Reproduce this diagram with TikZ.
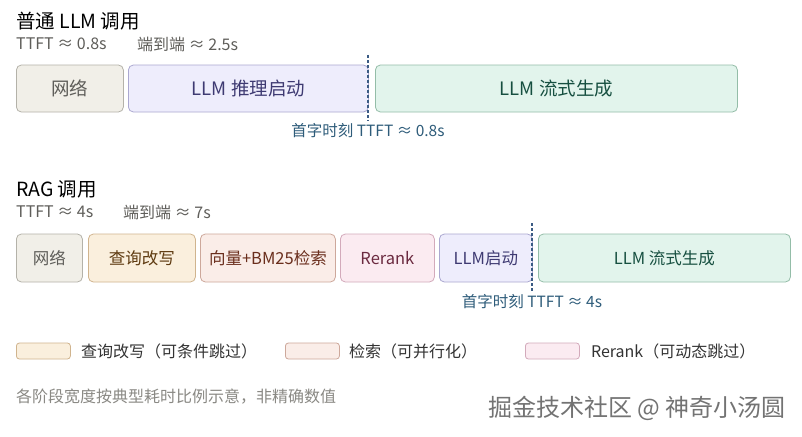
\documentclass[tikz,border=0pt]{standalone}
\usepackage{fontspec}
\setmainfont{Noto Sans CJK SC}
\usetikzlibrary{positioning}

\definecolor{netfill}{HTML}{F1EFE8}
\definecolor{netdraw}{HTML}{B4B2A9}
\definecolor{nettext}{HTML}{5F5E5A}
\definecolor{inffill}{HTML}{EEEDFC}
\definecolor{infdraw}{HTML}{ABA8D0}
\definecolor{inftext}{HTML}{3E3A72}
\definecolor{genfill}{HTML}{E2F4EC}
\definecolor{gendraw}{HTML}{94BDA8}
\definecolor{gentext}{HTML}{164F40}
\definecolor{rwfill}{HTML}{FAEFDD}
\definecolor{rwdraw}{HTML}{D0B48E}
\definecolor{rwtext}{HTML}{5E3A10}
\definecolor{retfill}{HTML}{FAEDE8}
\definecolor{retdraw}{HTML}{CDA89B}
\definecolor{rettext}{HTML}{6A2E1C}
\definecolor{rrfill}{HTML}{FBEBF1}
\definecolor{rrdraw}{HTML}{D3AABB}
\definecolor{rrtext}{HTML}{6B2A40}
\definecolor{markline}{HTML}{3B5B84}
\definecolor{marktext}{HTML}{2E5C7A}
\definecolor{subtext}{HTML}{5F5E5A}
\definecolor{notetext}{HTML}{8A8984}

\begin{document}
\begin{tikzpicture}[x=1pt,y=-1pt,
        stage/.style={draw,rounded corners=5pt,line width=0.8pt,anchor=west,inner sep=0pt},
        toprow/.style={stage,minimum height=47pt,font=\fontsize{18.5}{20}\selectfont},
        ragrow/.style={stage,minimum height=48pt,font=\fontsize{16.5}{18}\selectfont},
        net/.style={fill=netfill,draw=netdraw,text=nettext},
        inf/.style={fill=inffill,draw=infdraw,text=inftext},
        gen/.style={fill=genfill,draw=gendraw,text=gentext},
        rewrite/.style={fill=rwfill,draw=rwdraw,text=rwtext},
        retrieve/.style={fill=retfill,draw=retdraw,text=rettext},
        rerank/.style={fill=rrfill,draw=rrdraw,text=rrtext},
        heading/.style={anchor=west,inner sep=0pt,font=\fontsize{19.5}{21}\selectfont},
        metric/.style={anchor=west,inner sep=0pt,text=subtext,font=\fontsize{16}{18}\selectfont},
        ttft/.style={draw=markline,line width=1.6pt,dash pattern=on 3pt off 2pt},
        ttftlabel/.style={inner sep=0pt,text=marktext,font=\fontsize{15.5}{17}\selectfont},
        swatch/.style={draw,rounded corners=3pt,line width=0.8pt,anchor=west,minimum width=54pt,minimum height=16pt,inner sep=0pt},
        legend/.style={anchor=west,inner sep=0pt,text=black!80,font=\fontsize{16}{18}\selectfont},
        ]
    \useasboundingbox[fill=white] (0,0) rectangle (802,436);

    % plain LLM call
    \node (title1) [heading] at (16,21) {普通 LLM 调用};
    \node (ttft1txt) [metric] at (16,44) {TTFT ≈ 0.8s};
    \node (e2e1txt) [metric] at (137,44) {端到端 ≈ 2.5s};

    \node (net1) [toprow, net, minimum width=107pt] at (16,88.5) {网络};
    \node (infer1) [toprow, inf, minimum width=240pt] at (128,88.5) {LLM 推理启动};
    \node (gen1) [toprow, gen, minimum width=362pt] at (375,88.5) {LLM 流式生成};

    \coordinate (mark1a) at (368,55);
    \coordinate (mark1b) at (368,121);
    \draw[ttft] (mark1a) -- (mark1b);
    \node (mark1txt) [ttftlabel] at (368,131) {首字时刻 TTFT ≈ 0.8s};

    % RAG call
    \node (title2) [heading] at (16,189) {RAG 调用};
    \node (ttft2txt) [metric] at (16,212) {TTFT ≈ 4s};
    \node (e2e2txt) [metric] at (123,212) {端到端 ≈ 7s};

    \node (net2) [ragrow, net, minimum width=66pt] at (16,258) {网络};
    \node (rewrite2) [ragrow, rewrite, minimum width=107pt] at (88,258) {查询改写};
    \node (search2) [ragrow, retrieve, minimum width=135pt] at (200,258) {向量+BM25检索};
    \node (rerank2) [ragrow, rerank, minimum width=94pt] at (340,258) {Rerank};
    \node (infer2) [ragrow, inf, minimum width=93pt] at (439,258) {LLM启动};
    \node (gen2) [ragrow, gen, minimum width=252pt] at (538,258) {LLM 流式生成};

    \coordinate (mark2a) at (532,223);
    \coordinate (mark2b) at (532,292);
    \draw[ttft] (mark2a) -- (mark2b);
    \node (mark2txt) [ttftlabel] at (532,302) {首字时刻 TTFT ≈ 4s};

    % legend
    \node (sw1) [swatch, fill=rwfill, draw=rwdraw] at (16,351) {};
    \node (lg1) [legend, right=10pt of sw1] {查询改写（可条件跳过）};
    \node (sw2) [swatch, fill=retfill, draw=retdraw] at (285,351) {};
    \node (lg2) [legend, right=9pt of sw2] {检索（可并行化）};
    \node (sw3) [swatch, fill=rrfill, draw=rrdraw] at (525,351) {};
    \node (lg3) [legend, right=11pt of sw3] {Rerank（可动态跳过）};

    % footnote and watermark
    \node (note) [anchor=west,inner sep=0pt,text=notetext,font=\fontsize{16}{18}\selectfont] at (16,397) {各阶段宽度按典型耗时比例示意，非精确数值};
    \node (mark) [anchor=east,inner sep=0pt,text=black!55,font=\fontsize{24}{26}\selectfont] at (786,408) {掘金技术社区 @ 神奇小汤圆};
\end{tikzpicture}
\end{document}
